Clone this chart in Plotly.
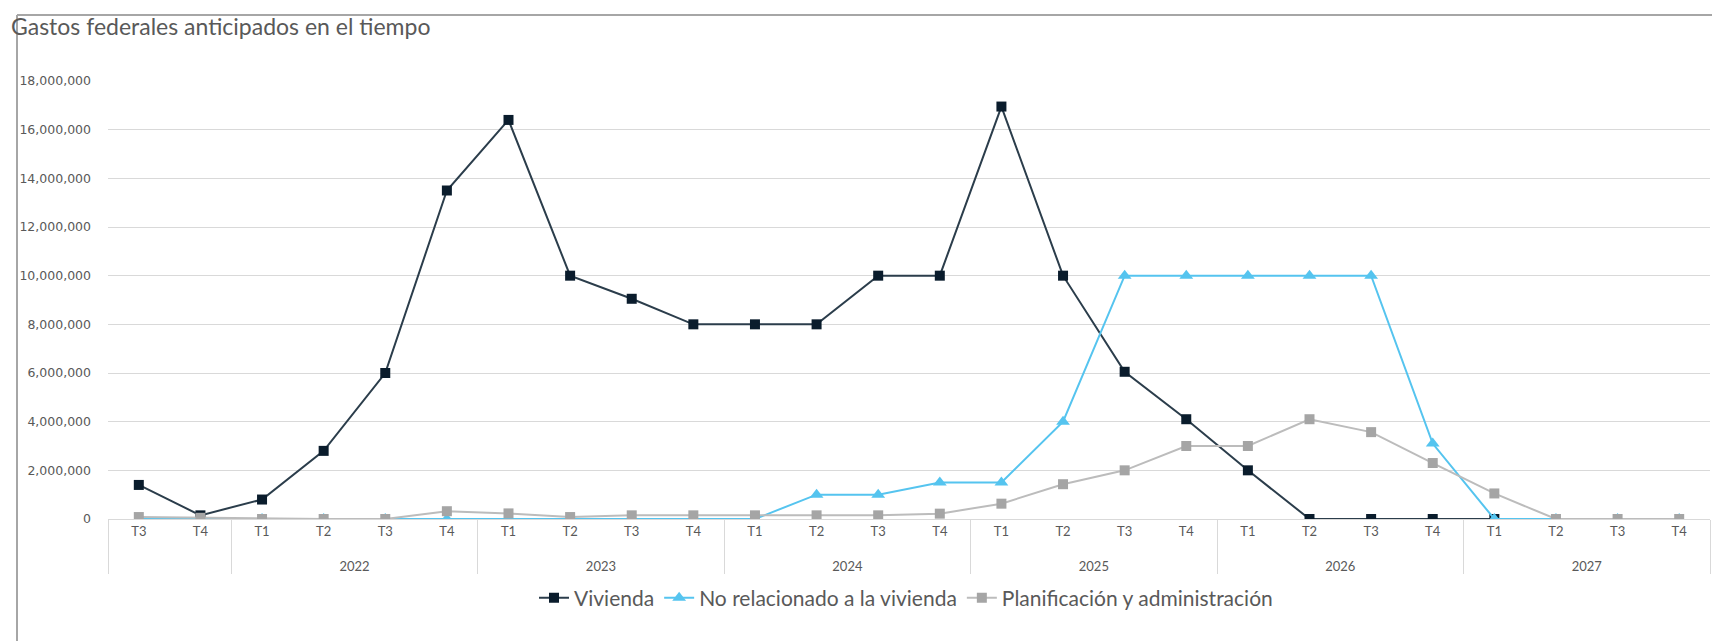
import plotly.graph_objects as go

ZW = "\u200b"  # zero-width marker keeps the partial first year's quarters distinct
year_names = ["", "2022", "2023", "2024", "2025", "2026", "2027"]
quarters_per_year = [2, 4, 4, 4, 4, 4, 4]
years = []
for name, n in zip(year_names, quarters_per_year):
    years += [("<br>" + name) if name else ""] * n
quarters = ["T3" + ZW, "T4" + ZW] + ["T1", "T2", "T3", "T4"] * 6

vivienda = [1400000, 150000, 800000, 2800000, 6000000, 13500000,
            16400000, 10000000, 9050000, 8000000,
            8000000, 8000000, 10000000, 10000000,
            16950000, 10000000, 6050000, 4100000,
            2000000, 0, 0, 0,
            0, None, None, None]
no_relacionado = [0, 0, 0, 0, 0, 0,
                  0, 0, 0, 0,
                  0, 1000000, 1000000, 1500000,
                  1500000, 4000000, 10000000, 10000000,
                  10000000, 10000000, 10000000, 3100000,
                  0, 0, 0, 0]
planificacion = [80000, 50000, 0, 0, 0, 320000,
                 230000, 80000, 150000, 150000,
                 150000, 150000, 150000, 220000,
                 630000, 1430000, 2000000, 3000000,
                 3000000, 4100000, 3570000, 2300000,
                 1050000, 0, 0, 0]

series_names = ["Vivienda", "No relacionado a la vivienda", "Planificación y administración"]
title_text = "Gastos federales anticipados en el tiempo"
y_ticks = list(range(0, 18000001, 2000000))

W, H = 1720, 641
L, R, T, B = 100, 18, 73, 130
pw, ph = W - L - R, H - T - B

def px_to_paper_x(px):
    return (px - L) / pw

def px_to_paper_y(py):
    return (H - B - py) / ph

x = [years, quarters]
fig = go.Figure()
fig.add_trace(go.Scatter(
    x=x, y=vivienda, name=series_names[0], mode="lines+markers",
    line=dict(color="#2b3d4b", width=2),
    marker=dict(symbol="square", size=10, color="#0a1c2c"),
))
fig.add_trace(go.Scatter(
    x=x, y=no_relacionado, name=series_names[1], mode="lines+markers",
    line=dict(color="#55c4ef", width=2),
    marker=dict(symbol="triangle-up", size=12, color="#55c4ef"),
))
fig.add_trace(go.Scatter(
    x=x, y=planificacion, name=series_names[2], mode="lines+markers",
    line=dict(color="#bcbcbc", width=2),
    marker=dict(symbol="square", size=10, color="#a5a5a5"),
))

fig.update_layout(
    width=W, height=H,
    margin=dict(l=L, r=R, t=T, b=B, autoexpand=False),
    paper_bgcolor="white", plot_bgcolor="white",
    font=dict(family="Lato, 'Open Sans', sans-serif", color="#595959"),
    title=dict(text=title_text, x=3 / W, xanchor="left", xref="container",
               y=1 - 19 / H, yanchor="middle", yref="container",
               font=dict(size=23, color="#595959", family="Lato")),
    showlegend=True,
    legend=dict(orientation="h", x=px_to_paper_x(898), xanchor="center",
                y=px_to_paper_y(590), yanchor="middle",
                font=dict(size=21, color="#595959", family="Lato"),
                itemwidth=30, bgcolor="rgba(0,0,0,0)"),
    hovermode=False,
)
fig.update_xaxes(
    type="multicategory", range=[-0.5, len(quarters) - 0.5],
    showgrid=False, showline=True, linecolor="#d9d9d9", linewidth=1,
    ticks="", tickfont=dict(size=13, color="#595959", family="Lato"),
    showdividers=True, dividercolor="#d9d9d9", dividerwidth=1,
    automargin=False,
)
fig.update_yaxes(
    range=[0, 18000000], tickvals=y_ticks, tickformat=",d",
    showgrid=True, gridcolor="#d9d9d9", gridwidth=1,
    zeroline=False, showline=False, ticks="",
    tickfont=dict(size=12.5, color="#595959", family="DejaVu Sans"),
    ticklabelstandoff=16, automargin=False,
)

# outer chart border (left and top edges)
fig.add_shape(type="line", xref="paper", yref="paper",
              x0=px_to_paper_x(9), x1=px_to_paper_x(9),
              y0=px_to_paper_y(7), y1=px_to_paper_y(H + 5),
              line=dict(color="#a6a6a6", width=2))
fig.add_shape(type="line", xref="paper", yref="paper",
              x0=px_to_paper_x(9), x1=px_to_paper_x(W + 5),
              y0=px_to_paper_y(7), y1=px_to_paper_y(7),
              line=dict(color="#a6a6a6", width=2))

fig.write_html("out.html")
